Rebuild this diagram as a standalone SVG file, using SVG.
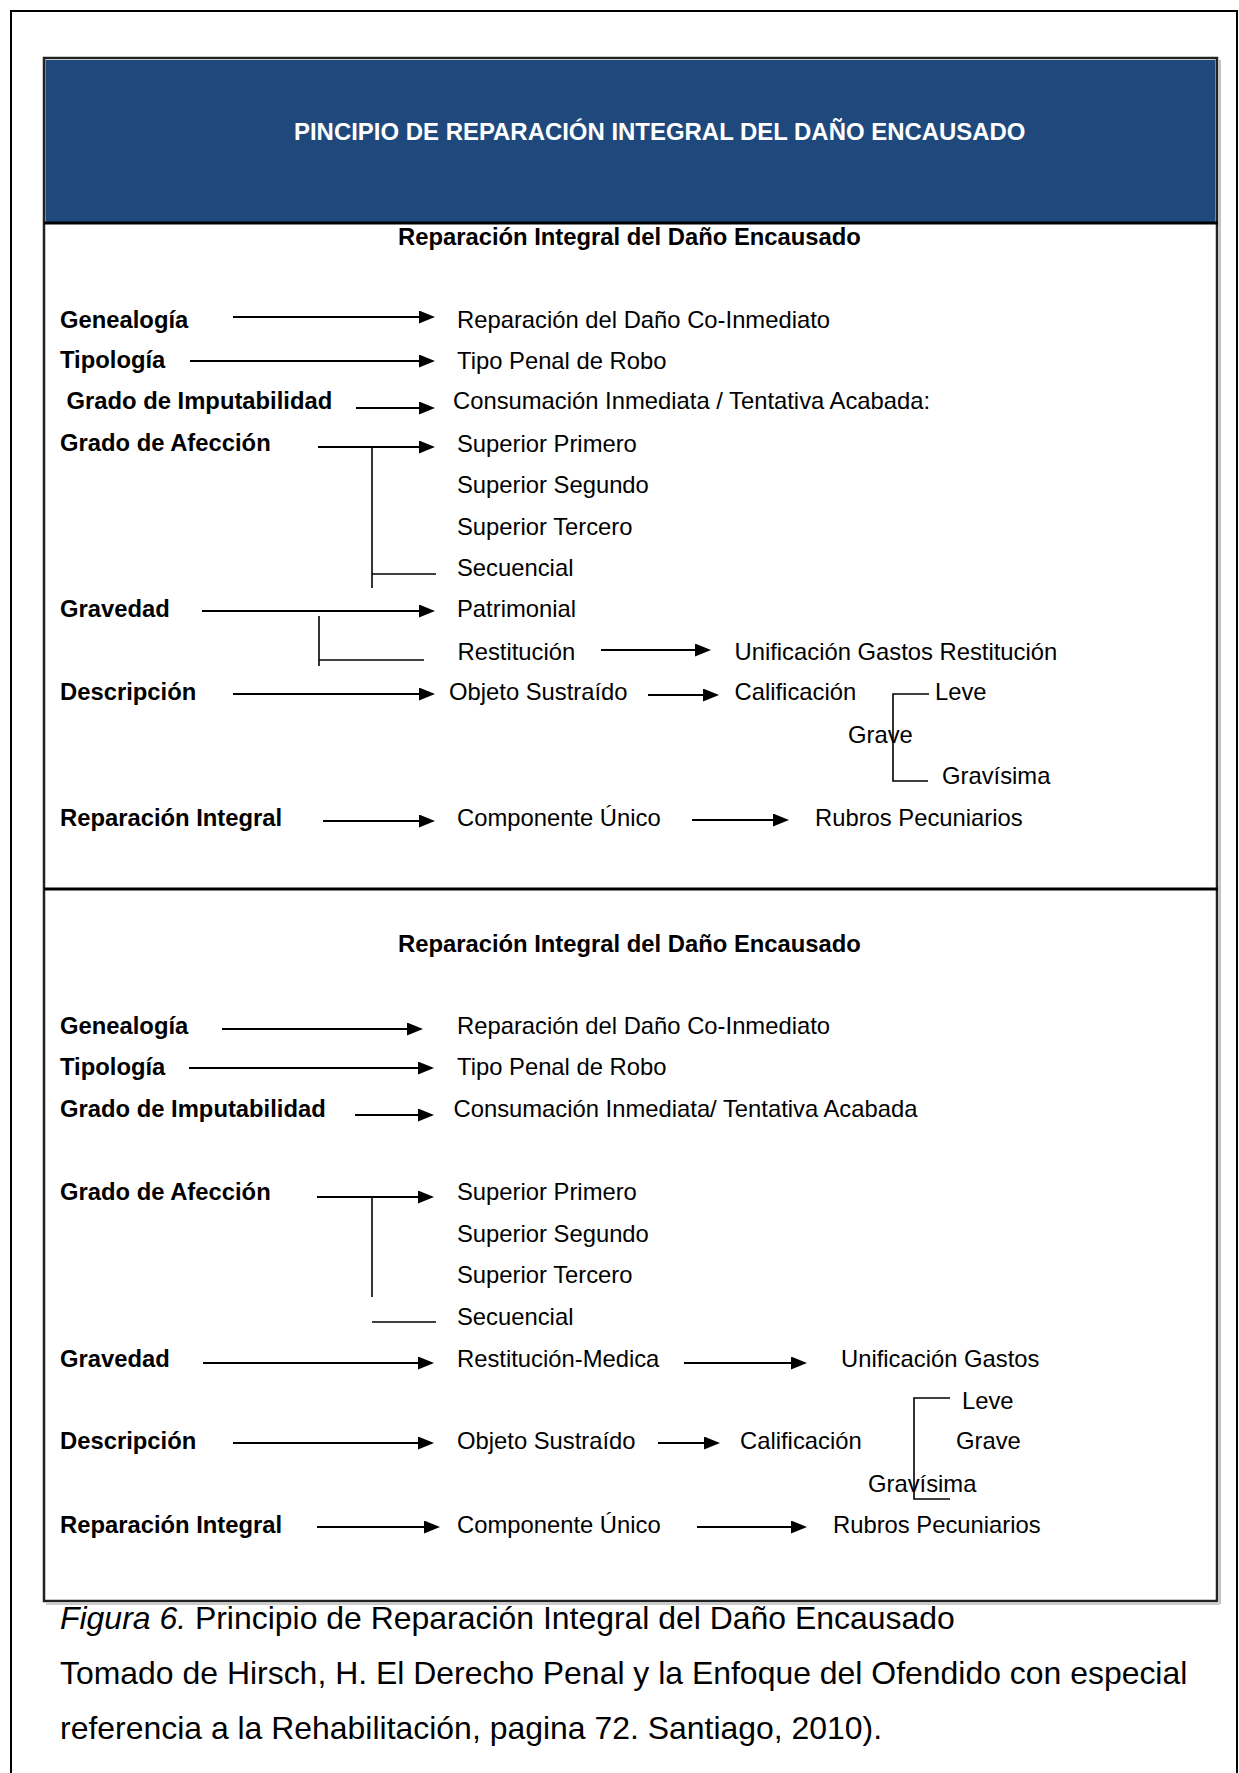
<svg xmlns="http://www.w3.org/2000/svg" width="1239" height="1773" viewBox="0 0 1239 1773">
<defs>
<marker id="ah" markerWidth="16" markerHeight="13" refX="4" refY="6.5" orient="auto" markerUnits="userSpaceOnUse">
<path d="M0,0 L16,6.5 L0,13 z" fill="#000"/>
</marker>
<style>
text{font-family:"Liberation Sans",Arial,sans-serif;font-size:23.8px;fill:#000}
.b{font-weight:bold}
.title{font-weight:bold;fill:#fff;font-size:23.95px}
.cap{font-size:31.95px}
.arr{stroke:#000;stroke-width:2.2;fill:none;marker-end:url(#ah)}
.ln{stroke:#000;stroke-width:1.6;fill:none}
</style>
</defs>
<rect width="1239" height="1773" fill="#fff"/>
<rect x="11" y="11" width="1226" height="1800" fill="none" stroke="#000" stroke-width="2"/>
<g id="table">
<rect x="44" y="58" width="1173" height="1543" fill="none" stroke="#222" stroke-width="2.5"/>
<line x1="46" y1="1604" x2="1219" y2="1604" stroke="#999" stroke-width="1.2"/>
<line x1="1220" y1="60" x2="1220" y2="1604" stroke="#999" stroke-width="1.2"/>
<rect x="45.5" y="60" width="1170" height="162" fill="#1F497D"/>
<line x1="44" y1="223" x2="1218" y2="223" stroke="#000" stroke-width="3"/>
<line x1="44" y1="889" x2="1218" y2="889" stroke="#000" stroke-width="3"/>
</g>
<g id="header"><text class="title" x="294" y="140">PINCIPIO DE REPARACIÓN INTEGRAL DEL DAÑO ENCAUSADO</text></g>

<g id="section1">
<g id="s1-subtitle"><text class="b" x="398" y="245">Reparación Integral del Daño Encausado</text></g>
<g id="s1-genealogia"><text class="b" x="60" y="328">Genealogía</text></g>
<g id="s1-tipologia"><text class="b" x="60" y="368">Tipología</text></g>
<g id="s1-imputabilidad"><text class="b" x="66.5" y="409">Grado de Imputabilidad</text></g>
<g id="s1-afeccion"><text class="b" x="60" y="451">Grado de Afección</text></g>
<g id="s1-gravedad"><text class="b" x="60" y="617">Gravedad</text></g>
<g id="s1-descripcion"><text class="b" x="60" y="700">Descripción</text></g>
<g id="s1-reparacion"><text class="b" x="60" y="826">Reparación Integral</text></g>
<g id="s1-dano"><text x="457" y="328">Reparación del Daño Co-Inmediato</text></g>
<g id="s1-tipo"><text x="457" y="369">Tipo Penal de Robo</text></g>
<g id="s1-consumacion"><text x="453" y="409">Consumación Inmediata / Tentativa Acabada:</text></g>
<g id="s1-primero"><text x="457" y="452">Superior Primero</text></g>
<g id="s1-segundo"><text x="457" y="493">Superior Segundo</text></g>
<g id="s1-tercero"><text x="457" y="535">Superior Tercero</text></g>
<g id="s1-secuencial"><text x="457" y="576">Secuencial</text></g>
<g id="s1-patrimonial"><text x="457" y="617">Patrimonial</text></g>
<g id="s1-restitucion"><text x="457.5" y="660">Restitución</text></g>
<g id="s1-unificacion"><text x="734.5" y="660">Unificación Gastos Restitución</text></g>
<g id="s1-objeto"><text x="449" y="700">Objeto Sustraído</text></g>
<g id="s1-calificacion"><text x="734.5" y="700">Calificación</text></g>
<g id="s1-leve"><text x="935" y="700">Leve</text></g>
<g id="s1-grave"><text x="848" y="743">Grave</text></g>
<g id="s1-gravisima"><text x="942" y="784">Gravísima</text></g>
<g id="s1-componente"><text x="457" y="826">Componente Único</text></g>
<g id="s1-rubros"><text x="815" y="826">Rubros Pecuniarios</text></g>
</g>

<g id="section2">
<g id="s2-subtitle"><text class="b" x="398" y="952">Reparación Integral del Daño Encausado</text></g>
<g id="s2-genealogia"><text class="b" x="60" y="1034">Genealogía</text></g>
<g id="s2-tipologia"><text class="b" x="60" y="1075">Tipología</text></g>
<g id="s2-imputabilidad"><text class="b" x="60" y="1117">Grado de Imputabilidad</text></g>
<g id="s2-afeccion"><text class="b" x="60" y="1200">Grado de Afección</text></g>
<g id="s2-gravedad"><text class="b" x="60" y="1367">Gravedad</text></g>
<g id="s2-descripcion"><text class="b" x="60" y="1449">Descripción</text></g>
<g id="s2-reparacion"><text class="b" x="60" y="1533">Reparación Integral</text></g>
<g id="s2-dano"><text x="457" y="1034">Reparación del Daño Co-Inmediato</text></g>
<g id="s2-tipo"><text x="457" y="1075">Tipo Penal de Robo</text></g>
<g id="s2-consumacion"><text x="453.5" y="1117">Consumación Inmediata/ Tentativa Acabada</text></g>
<g id="s2-primero"><text x="457" y="1200">Superior Primero</text></g>
<g id="s2-segundo"><text x="457" y="1242">Superior Segundo</text></g>
<g id="s2-tercero"><text x="457" y="1283">Superior Tercero</text></g>
<g id="s2-secuencial"><text x="457" y="1325">Secuencial</text></g>
<g id="s2-restitucion"><text x="457" y="1367">Restitución-Medica</text></g>
<g id="s2-unificacion"><text x="841" y="1367">Unificación Gastos</text></g>
<g id="s2-leve"><text x="962" y="1409">Leve</text></g>
<g id="s2-objeto"><text x="457" y="1449">Objeto Sustraído</text></g>
<g id="s2-calificacion"><text x="740" y="1449">Calificación</text></g>
<g id="s2-grave"><text x="956" y="1449">Grave</text></g>
<g id="s2-gravisima"><text x="868" y="1492">Gravísima</text></g>
<g id="s2-componente"><text x="457" y="1533">Componente Único</text></g>
<g id="s2-rubros"><text x="833" y="1533">Rubros Pecuniarios</text></g>
</g>

<g id="connectors">
<line class="arr" x1="233" y1="317" x2="423" y2="317"/>
<line class="arr" x1="190" y1="361" x2="423" y2="361"/>
<line class="arr" x1="356" y1="408" x2="423" y2="408"/>
<line class="arr" x1="318" y1="447" x2="423" y2="447"/>
<line class="ln" x1="372" y1="447" x2="372" y2="588"/>
<line class="ln" x1="372" y1="574" x2="436" y2="574"/>
<line class="arr" x1="202" y1="611" x2="423" y2="611"/>
<line class="ln" x1="319" y1="616" x2="319" y2="666"/>
<line class="ln" x1="319" y1="660" x2="424" y2="660"/>
<line class="arr" x1="601" y1="650" x2="699" y2="650"/>
<line class="arr" x1="233" y1="694" x2="423" y2="694"/>
<line class="arr" x1="648" y1="695" x2="707" y2="695"/>
<polyline class="ln" points="929,694 893,694 893,781 928,781"/>
<line class="arr" x1="323" y1="821" x2="423" y2="821"/>
<line class="arr" x1="692" y1="820" x2="777" y2="820"/>

<line class="arr" x1="222" y1="1029" x2="411" y2="1029"/>
<line class="arr" x1="189" y1="1068" x2="422" y2="1068"/>
<line class="arr" x1="355" y1="1115" x2="422" y2="1115"/>
<line class="arr" x1="317" y1="1197" x2="422" y2="1197"/>
<line class="ln" x1="372" y1="1197" x2="372" y2="1297"/>
<line class="ln" x1="372" y1="1322" x2="436" y2="1322"/>
<line class="arr" x1="203" y1="1363" x2="422" y2="1363"/>
<line class="arr" x1="684" y1="1363" x2="795" y2="1363"/>
<line class="arr" x1="233" y1="1443" x2="422" y2="1443"/>
<line class="arr" x1="658" y1="1443" x2="708" y2="1443"/>
<polyline class="ln" points="950,1398 914,1398 914,1499 950,1499"/>
<line class="arr" x1="317" y1="1527" x2="428" y2="1527"/>
<line class="arr" x1="697" y1="1527" x2="795" y2="1527"/>
</g>

<g id="caption">
<text class="cap" x="60" y="1629"><tspan font-style="italic">Figura 6.</tspan> Principio de Reparación Integral del Daño Encausado</text>
<text class="cap" x="60" y="1684">Tomado de Hirsch, H. El Derecho Penal y la Enfoque del Ofendido con especial</text>
<text class="cap" x="60" y="1739">referencia a la Rehabilitación, pagina 72. Santiago, 2010).</text>
</g>
</svg>
